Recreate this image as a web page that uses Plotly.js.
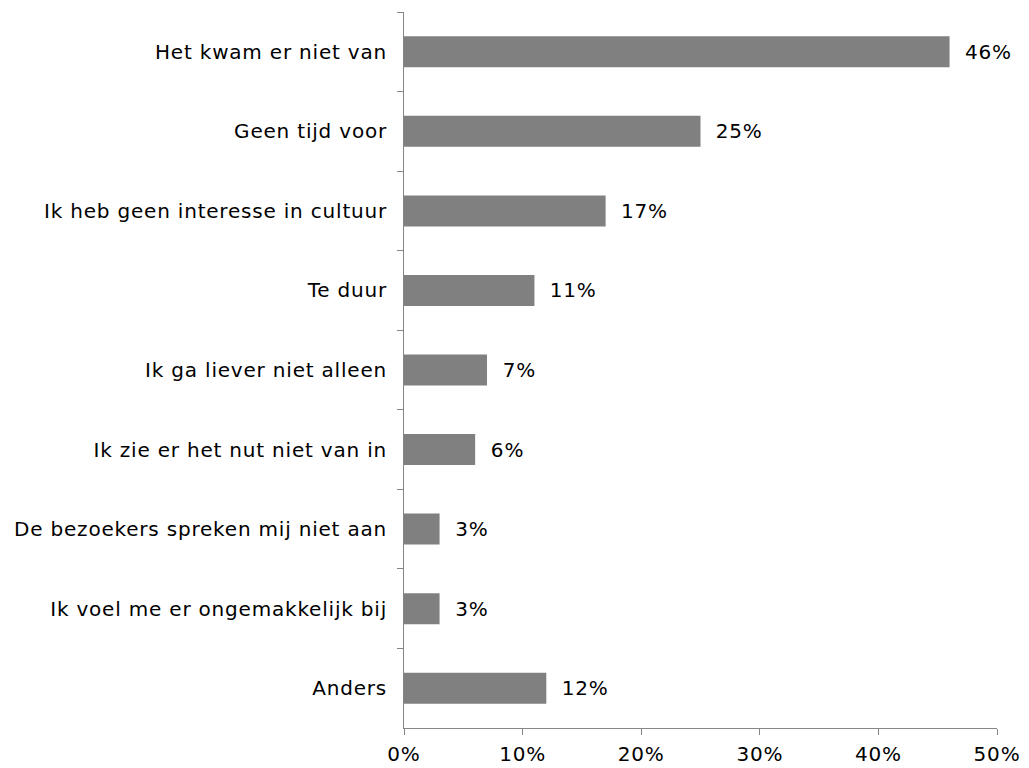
<!DOCTYPE html>
<html>
<head>
<meta charset="utf-8">
<script src="https://cdn.plot.ly/plotly-3.0.1.min.js"></script>
<style>
html,body{margin:0;padding:0;background:#fff;}
#chart{width:1029px;height:768px;}
#chart .ytick text, #chart .xtick text, #chart .bartext{letter-spacing:0.8px;}
</style>
</head>
<body>
<div id="chart"></div>
<script>
const categories = [
  "Het kwam er niet van",
  "Geen tijd voor",
  "Ik heb geen interesse in cultuur",
  "Te duur",
  "Ik ga liever niet alleen",
  "Ik zie er het nut niet van in",
  "De bezoekers spreken mij niet aan",
  "Ik voel me er ongemakkelijk bij",
  "Anders"
];
const values = [46, 25, 17, 11, 7, 6, 3, 3, 12];
const xTickVals = [0, 10, 20, 30, 40, 50];
const xTickText = ["0%", "10%", "20%", "30%", "40%", "50%"];

const FONT = "DejaVu Sans, Verdana, sans-serif";

const trace = {
  type: "bar",
  orientation: "h",
  y: categories,
  x: values,
  text: values.map(v => "\u00a0\u00a0" + v + "%"),
  textposition: "outside",
  cliponaxis: false,
  textfont: {family: FONT, size: 20, color: "#000"},
  marker: {color: "#808080"},
  hoverinfo: "none"
};

const layout = {
  width: 1029,
  height: 768,
  margin: {l: 404, r: 32, t: 12, b: 40},
  paper_bgcolor: "#fff",
  plot_bgcolor: "#fff",
  showlegend: false,
  bargap: 0.61,
  font: {family: FONT, size: 20, color: "#000"},
  xaxis: {
    range: [0, 50],
    tickvals: xTickVals,
    ticktext: xTickText,
    showgrid: false,
    zeroline: false,
    showline: true,
    linecolor: "#868686",
    linewidth: 1,
    ticks: "outside",
    ticklen: 6,
    tickcolor: "#868686",
    ticklabelstandoff: 2,
    fixedrange: true
  },
  yaxis: {
    type: "category",
    autorange: "reversed",
    tickson: "boundaries",
    showgrid: false,
    zeroline: false,
    showline: true,
    linecolor: "#868686",
    linewidth: 1,
    ticks: "outside",
    ticklen: 6,
    tickcolor: "#868686",
    ticklabelstandoff: 12,
    fixedrange: true
  }
};

Plotly.newPlot("chart", [trace], layout, {displayModeBar: false, staticPlot: true});
</script>
</body>
</html>
